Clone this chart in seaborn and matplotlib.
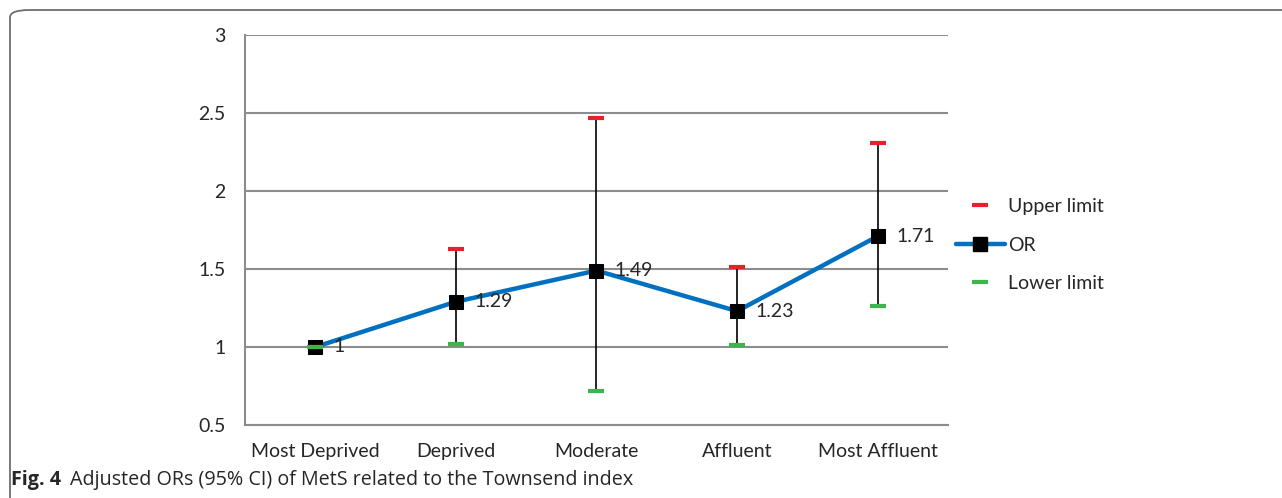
import numpy as np
import pandas as pd
import matplotlib.pyplot as plt
from matplotlib.patches import FancyBboxPatch
from matplotlib.lines import Line2D
import seaborn as sns

categories = ["Most Deprived", "Deprived", "Moderate", "Affluent", "Most Affluent"]
odds_ratio = [1.0, 1.29, 1.49, 1.23, 1.71]
upper_limit = [1.0, 1.63, 2.47, 1.51, 2.31]
lower_limit = [1.0, 1.02, 0.72, 1.01, 1.26]
or_labels = ["1", "1.29", "1.49", "1.23", "1.71"]

sns.set_style("white")
plt.rcParams["font.family"] = ["Lato", "DejaVu Sans"]

df = pd.DataFrame({"pos": np.arange(len(categories)), "cat": categories,
                   "OR": odds_ratio, "upper": upper_limit, "lower": lower_limit})

fig = plt.figure(figsize=(12.82, 4.98), dpi=100)
ax = fig.add_axes([0.191, 0.1466, 0.5485, 0.7831])

# CI whiskers
ax.vlines(df["pos"], df["lower"], df["upper"], color="black", lw=1.2, zorder=2)

sns.lineplot(data=df, x="pos", y="OR", ax=ax, color="#0070C0", lw=3.2,
             marker="s", markersize=10, markerfacecolor="black",
             markeredgecolor="black", zorder=4)
sns.scatterplot(data=df, x="pos", y="upper", ax=ax, marker="_", s=120,
                color="#E8202A", linewidth=3, zorder=5)
sns.scatterplot(data=df, x="pos", y="lower", ax=ax, marker="_", s=120,
                color="#3CB54A", linewidth=3, zorder=5)

for x, y, t in zip(df["pos"], df["OR"], or_labels):
    ax.text(x + 0.13, y, t, fontsize=14, va="center", ha="left", zorder=6)

ax.set_xlim(-0.5, len(categories) - 0.5)
ax.set_ylim(0.5, 3)
ax.set_yticks(np.arange(0.5, 3.01, 0.5))
ax.set_yticklabels(["0.5", "1", "1.5", "2", "2.5", "3"], fontsize=14)
ax.set_xticks(df["pos"])
ax.set_xticklabels(categories, fontsize=14)
ax.set_xticks(np.arange(-0.5, len(categories)), minor=True)
ax.tick_params(axis="x", which="major", length=0, pad=13)
ax.tick_params(axis="x", which="minor", length=6, color="#888888", width=1)
ax.tick_params(axis="y", length=6, color="#888888", width=1.2, pad=8, direction="out")
ax.set_xlabel("")
ax.set_ylabel("")
ax.yaxis.grid(True, color="#8c8c8c", lw=1.5)
ax.set_axisbelow(True)
for side in ["top", "right"]:
    ax.spines[side].set_visible(False)
for side in ["left", "bottom"]:
    ax.spines[side].set_color("#8c8c8c")
    ax.spines[side].set_linewidth(1.5)

handles = [
    Line2D([], [], color="#E8202A", marker="_", markersize=11, mew=3, ls="none"),
    Line2D([], [], color="#0070C0", lw=3.2, marker="s", markersize=10,
           markerfacecolor="black", markeredgecolor="black"),
    Line2D([], [], color="#3CB54A", marker="_", markersize=11, mew=3, ls="none"),
]
fig.legend(handles, ["Upper limit", "OR", "Lower limit"], loc="center left",
           bbox_to_anchor=(0.732, 0.508), frameon=False, fontsize=14,
           labelspacing=1.12, handlelength=2.5, handletextpad=0.2)

# rounded frame around the figure panel
frame = FancyBboxPatch((10 / 1282, -0.2), 1.2, 1.2 - 10 / 498,
                       boxstyle="round,pad=0,rounding_size=0.015",
                       transform=fig.transFigure, fill=False,
                       edgecolor="#6e6e6e", lw=1.3)
fig.patches.append(frame)

cap_font = ["Open Sans", "DejaVu Sans"]
t1 = fig.text(11 / 1282, 0.036, "Fig. 4", fontsize=14.2, fontweight="bold",
              family=cap_font, va="center")
fig.canvas.draw()
bb = t1.get_window_extent()
fig.text((bb.x1 + 9) / 1282, 0.036,
         "Adjusted ORs (95% CI) of MetS related to the Townsend index",
         fontsize=14.2, family=cap_font, va="center")

fig.savefig("out.png", dpi=100)
